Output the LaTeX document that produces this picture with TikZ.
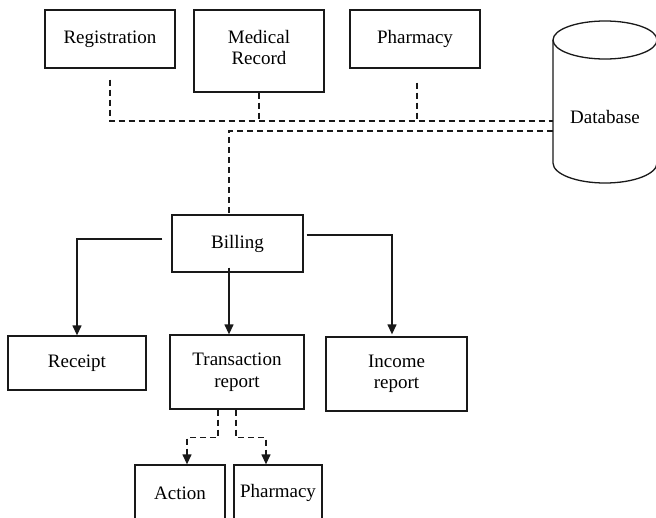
\documentclass[tikz,border=0pt]{standalone}
\usepackage{fontspec}
\setmainfont{Liberation Serif}
\usetikzlibrary{arrows.meta,calc}
\tikzset{
  box/.style={draw=black!90, line width=1.3pt, align=center, inner sep=0pt,
    font=\fontsize{19}{21.5}\selectfont},
  dline/.style={draw=black!90, line width=1.3pt, dash pattern=on 6pt off 4pt},
  sline/.style={draw=black!90, line width=1.3pt},
  tip/.style={-{Triangle[length=10pt,width=9pt]}},
}
\begin{document}
\begin{tikzpicture}[x=1pt,y=-1pt]
\clip (0,0) rectangle (656,517);
\fill[white] (0,0) rectangle (656,517);
% top boxes
\node[box, minimum width=130pt, minimum height=58pt] (reg) at (110,39) {Registration};
\node[box, minimum width=130pt, minimum height=82pt] (med) at (259,51) {Medical\\Record\rule[-7pt]{0pt}{0pt}};
\node[box, minimum width=130pt, minimum height=58pt] (pha) at (415,39) {Pharmacy};
% database cylinder
\draw[sline] (553,40) -- (553,163) arc[start angle=180,end angle=360,x radius=52pt,y radius=20pt] -- (657,40);
\draw[sline] (605,40) ellipse [x radius=52pt, y radius=19pt];
\node[font=\fontsize{19}{21.5}\selectfont] (db) at (605,117) {Database};
\coordinate (dbA) at (553,121);
\coordinate (dbB) at (553,131);
% billing and outputs
\node[box, minimum width=131pt, minimum height=57pt] (bil) at (237.5,243.5) {Billing};
\node[box, minimum width=138pt, minimum height=54pt] (rec) at (77,363) {Receipt};
\node[box, minimum width=134pt, minimum height=74pt] (tra) at (237,372) {Transaction\\report\rule[-3pt]{0pt}{0pt}};
\node[box, minimum width=141pt, minimum height=74pt] (inc) at (396.5,374) {Income\\report};
\node[box, minimum width=90pt, minimum height=56pt] (act) at (180,493) {Action};
\node[box, minimum width=88pt, minimum height=56pt] (ph2) at (278,493) {Pharmacy};
% dashed links to database
\coordinate (rs) at ($(reg.south)+(0,11)$);
\coordinate (ps) at ($(pha.south)+(2,14)$);
\draw[dline] (rs) |- (dbA);
\draw[dline] (med.south) -- (med.south |- dbA);
\draw[dline] (ps) -- (ps |- dbA);
\coordinate (bt) at ($(bil.north)+(-8.5,0)$);
\draw[dline] (dbB) -| (bt);
% billing arrows
\coordinate (bl) at ($(bil.west)+(-9,-4.5)$);
\coordinate (bm) at ($(bil.south)+(-8.5,-5)$);
\coordinate (br) at ($(bil.east)+(3,-8.5)$);
\draw[sline, tip] (bl) -| (rec.north);
\draw[sline, tip] (bm) -- (bm |- tra.north);
\draw[sline, tip] (br) -| ($(inc.north)+(-4.5,-2)$);
% transaction dashed arrows
\coordinate (t1) at ($(tra.south)+(-19,0)$);
\coordinate (t2) at ($(tra.south)+(-1,0)$);
\coordinate (a1) at ($(act.north)+(7,0)$);
\coordinate (a2) at ($(ph2.north)+(-12,0)$);
\draw[dline, tip] (t1) -- ++(0,28) -| (a1);
\draw[dline, tip] (t2) -- ++(0,28) -| (a2);
\end{tikzpicture}
\end{document}
